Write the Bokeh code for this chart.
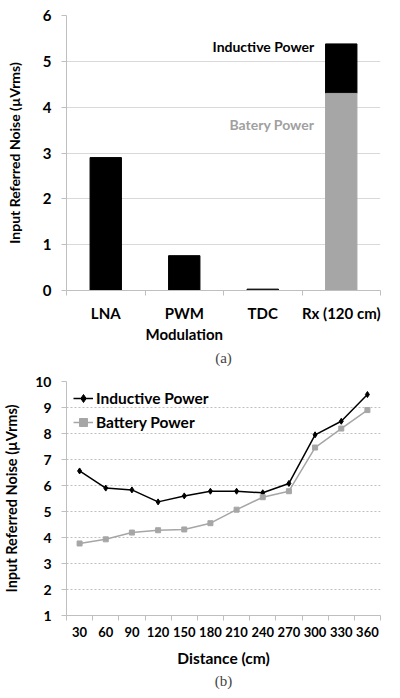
from bokeh.plotting import figure
from bokeh.layouts import column
from bokeh.models import Range1d, FixedTicker, Title, Legend, LegendItem
from bokeh.embed import file_html
from bokeh.resources import INLINE
from bokeh.core.properties import value

# ---- data (a) ----
categories = ["LNA", "PWM\nModulation", "TDC", "Rx (120 cm)"]
block_noise = [2.9, 0.76, 0.03]          # LNA, PWM, TDC
rx_battery = 4.3
rx_inductive = 5.38
y_ticks_a = [0, 1, 2, 3, 4, 5, 6]

# ---- data (b) ----
distance = [30, 60, 90, 120, 150, 180, 210, 240, 270, 300, 330, 360]
inductive = [6.56, 5.9, 5.83, 5.37, 5.6, 5.78, 5.78, 5.72, 6.08, 7.95, 8.47, 9.5]
battery = [3.77, 3.93, 4.19, 4.28, 4.31, 4.55, 5.07, 5.55, 5.78, 7.46, 8.19, 8.9]
y_ticks_b = [1, 2, 3, 4, 5, 6, 7, 8, 9, 10]

FONT = "Lato"
GRAY = "#a6a6a6"
AX = "#bfbfbf"
YLABEL = "Input Referred Noise (\u00b5Vrms)"


def style_axes(p):
    for ax in (p.xaxis[0], p.yaxis[0]):
        ax.axis_line_color = AX
        ax.major_tick_line_color = AX
        ax.minor_tick_line_color = AX
        ax.major_tick_in = 0
        ax.major_tick_out = 5
        ax.minor_tick_in = 0
        ax.minor_tick_out = 5
        ax.major_label_text_font = FONT
        ax.major_label_text_font_style = "bold"
        ax.major_label_text_color = "black"
        ax.axis_label_text_font = FONT
        ax.axis_label_text_font_style = "bold"
        ax.axis_label_text_color = "black"
    p.yaxis.major_label_standoff = 10
    p.xaxis.major_label_standoff = 8
    p.outline_line_color = None
    p.xgrid.grid_line_color = None


# ================= (a) =================
n = len(categories)
xa = [i + 0.5 for i in range(n)]
pa = figure(width=384, height=370, output_backend="svg", toolbar_location=None,
            x_range=Range1d(0, n), y_range=Range1d(0, 6),
            min_border_left=58, min_border_right=1, min_border_top=15, min_border_bottom=80)
style_axes(pa)
pa.ygrid.grid_line_color = "#d9d9d9"
pa.yaxis.ticker = FixedTicker(ticks=y_ticks_a)
pa.yaxis.major_label_text_font_size = "15px"
pa.yaxis.axis_label = YLABEL
pa.yaxis.axis_label_text_font_size = "14px"
pa.yaxis.axis_label_standoff = 17
pa.xaxis.ticker = FixedTicker(ticks=xa, minor_ticks=list(range(n + 1)))
pa.xaxis.major_label_overrides = {x: c for x, c in zip(xa, categories)}
pa.xaxis.major_tick_line_color = None
pa.xaxis.major_label_text_font_size = "15px"

pa.vbar(x=xa[:3], top=block_noise, width=0.4, color="black")
pa.vbar(x=[xa[3]], bottom=[rx_battery], top=[rx_inductive], width=0.4, color="black")
pa.vbar(x=[xa[3]], bottom=[0], top=[rx_battery], width=0.4, color=GRAY)
pa.text(x=[xa[3], xa[3]], y=[5.33, 3.62], text=["Inductive Power", "Batery Power"],
        x_offset=-27, text_align="right", text_baseline="middle",
        text_font=value(FONT), text_font_style="bold", text_font_size="14px",
        text_color=["black", "#a0a0a0"])
pa.add_layout(Title(text="(a)", align="center", text_font="Liberation Serif",
                    text_font_style="normal", text_font_size="15px", offset=-14,
                    standoff=2), "below")

# ================= (b) =================
half = (distance[1] - distance[0]) / 2
pb = figure(width=384, height=322, output_backend="svg", toolbar_location=None,
            x_range=Range1d(distance[0] - half, distance[-1] + half), y_range=Range1d(1, 10),
            min_border_left=58, min_border_right=4, min_border_top=11, min_border_bottom=77)
style_axes(pb)
pb.ygrid.grid_line_color = "#bfbfbf"
pb.ygrid.grid_line_dash = "2 2"
pb.yaxis.ticker = FixedTicker(ticks=y_ticks_b)
pb.yaxis.major_label_text_font_size = "14px"
pb.yaxis.axis_label = YLABEL
pb.yaxis.axis_label_text_font_size = "14.5px"
pb.yaxis.axis_label_standoff = 12
pb.xaxis.ticker = FixedTicker(ticks=distance,
                              minor_ticks=[d - half for d in distance] + [distance[-1] + half])
pb.xaxis.major_tick_line_color = None
pb.xaxis.major_label_standoff = 6
pb.xaxis.major_label_text_font_size = "13px"
pb.xaxis.axis_label = "Distance (cm)"
pb.xaxis.axis_label_text_font_size = "15.5px"
pb.xaxis.axis_label_standoff = 9

l1 = pb.line(distance, inductive, line_color="black", line_width=1.5)
s1 = pb.scatter(distance, inductive, marker="diamond", size=6, color="black")
l2 = pb.line(distance, battery, line_color=GRAY, line_width=1.5)
s2 = pb.scatter(distance, battery, marker="square", size=5, color=GRAY)
leg = Legend(items=[LegendItem(label="Inductive Power", renderers=[l1, s1]),
                    LegendItem(label="Battery Power", renderers=[l2, s2])],
             location="top_left", margin=7, padding=7, spacing=4,
             glyph_width=20, glyph_height=20, label_height=20, label_standoff=3,
             label_text_font=FONT, label_text_font_style="bold", label_text_font_size="15.5px",
             label_text_color="black",
             background_fill_alpha=0, border_line_color=None)
pb.add_layout(leg, "center")
pb.add_layout(Title(text="(b)", align="center", text_font="Liberation Serif",
                    text_font_style="normal", text_font_size="15px", offset=-8,
                    standoff=2), "below")

layout = column(pa, pb, spacing=0)
open("out.html", "w").write(file_html(layout, INLINE))
